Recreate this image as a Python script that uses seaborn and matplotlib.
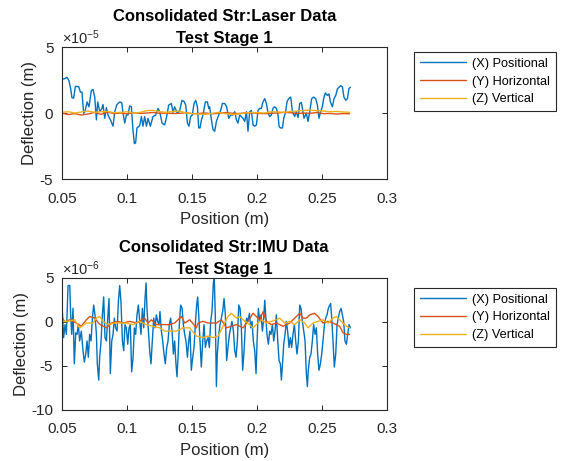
import numpy as np
import matplotlib
matplotlib.use("Agg")
import matplotlib.pyplot as plt
import seaborn as sns
from matplotlib.ticker import FuncFormatter

# ---------------- data ----------------
SERIES_LABELS = ["(X) Positional", "(Y) Horizontal", "(Z) Vertical"]
XTICKS = [0.05, 0.1, 0.15, 0.2, 0.25, 0.3]
XTICK_LABELS = ["0.05", "0.1", "0.15", "0.2", "0.25", "0.3"]
TOP_YTICKS = [-5e-5, 0, 5e-5]
BOT_YTICKS = [-10e-6, -5e-6, 0, 5e-6]

# Laser data, X (positional), values in units of 1e-5 m
LASER_X_POS = [0.0500, 0.0505, 0.0523, 0.0541, 0.0556, 0.0569, 0.0579, 0.0592, 0.0605, 0.0631,
               0.0644, 0.0656, 0.0669, 0.0679, 0.0695, 0.0710, 0.0728, 0.0741, 0.0754, 0.0767,
               0.0777, 0.0792, 0.0808, 0.0818, 0.0831, 0.0844, 0.0856, 0.0875, 0.0895, 0.0908,
               0.0925, 0.0946, 0.0962, 0.0972, 0.0985, 0.0998, 0.1010, 0.1023, 0.1036, 0.1048,
               0.1059, 0.1069, 0.1079, 0.1100, 0.1113, 0.1125, 0.1138, 0.1152, 0.1164, 0.1182,
               0.1202, 0.1223, 0.1241, 0.1254, 0.1272, 0.1292, 0.1305, 0.1323, 0.1344, 0.1356,
               0.1369, 0.1390, 0.1408, 0.1425, 0.1441, 0.1454, 0.1467, 0.1479, 0.1492, 0.1505,
               0.1518, 0.1531, 0.1544, 0.1554, 0.1564, 0.1575, 0.1587, 0.1605, 0.1621, 0.1631,
               0.1638, 0.1652, 0.1664, 0.1677, 0.1690, 0.1708, 0.1723, 0.1736, 0.1754, 0.1769,
               0.1785, 0.1800, 0.1818, 0.1831, 0.1844, 0.1856, 0.1869, 0.1882, 0.1895, 0.1908,
               0.1921, 0.1933, 0.1946, 0.1959, 0.1972, 0.1985, 0.1998, 0.2010, 0.2023, 0.2036,
               0.2048, 0.2062, 0.2075, 0.2087, 0.2100, 0.2113, 0.2125, 0.2138, 0.2152, 0.2164,
               0.2172, 0.2182, 0.2198, 0.2208, 0.2223, 0.2233, 0.2246, 0.2262, 0.2275, 0.2292,
               0.2305, 0.2318, 0.2331, 0.2344, 0.2356, 0.2364, 0.2382, 0.2395, 0.2408, 0.2423,
               0.2438, 0.2454, 0.2467, 0.2479, 0.2492, 0.2505, 0.2515, 0.2528, 0.2544, 0.2556,
               0.2567, 0.2582, 0.2595, 0.2608, 0.2621, 0.2633, 0.2646, 0.2659, 0.2671, 0.2685,
               0.2698, 0.2710, 0.2721]
LASER_X_VAL = [0.10, 2.57, 2.60, 2.70, 2.45, 1.83, 1.16, 1.13, 2.02, 2.00,
               1.58, 1.58, -0.02, 0.10, 0.84, 0.47, 1.70, 1.78, 1.21, -0.52,
               0.84, 0.15, 0.30, 0.64, -0.40, 0.40, -0.15, -0.52, -1.00, 0.10,
               0.64, 0.84, 0.79, -0.02, -0.76, -0.15, -0.15, 0.54, 0.47, -1.26,
               -2.32, -2.25, -1.13, -0.96, -0.27, -1.00, -0.27, -1.00, -0.40, -1.00,
               -0.27, -0.15, 0.35, 0.10, -0.76, -0.90, -0.40, 0.60, 0.72, 0.05,
               0.47, -0.02, 0.20, 0.96, 0.87, 0.60, -0.76, -1.00, -0.27, -0.15,
               0.72, 0.96, 0.47, -1.13, -1.13, -0.52, -0.15, 0.84, 0.84, 0.35,
               0.47, -0.52, -1.26, -1.38, -0.64, -0.15, 0.20, 0.72, 0.72, 0.47,
               -0.40, -0.15, -0.15, 0.10, -0.52, -0.76, -0.15, -0.27, -0.40, -0.64,
               0.10, -1.38, 0.10, 0.20, -0.90, -1.00, -0.90, 0.20, 0.35, 0.35,
               0.84, 1.09, 0.72, 0.00, -0.27, -0.15, 0.35, 0.47, 0.35, -0.15,
               -1.00, -1.13, -1.13, -0.40, 0.10, 0.84, 1.09, 1.21, 0.10, -0.27,
               0.10, -0.35, 0.72, 0.80, 0.10, -0.40, -0.02, -0.64, 0.10, 1.09,
               1.21, 1.09, 0.60, -0.40, 0.10, 0.47, 1.09, 1.53, 1.33, 1.45,
               0.84, 0.47, 1.09, 1.33, 1.83, 1.95, 2.07, 2.00, 1.21, 0.96,
               1.10, 1.86, 1.95]
# Laser data, Y (horizontal) and Z (vertical), units of 1e-5 m, evenly sampled
LASER_YZ_START, LASER_YZ_END = 0.05, 0.2715
LASER_Y_VAL = [0.00, -0.12, -0.05, -0.15, -0.08, 0.05, -0.10, 0.08, -0.05, 0.00,
               -0.06, 0.02, -0.03, 0.00, 0.04, -0.02, 0.00, -0.04, -0.02, 0.02,
               -0.05, -0.03, 0.00, -0.06, -0.02, 0.03, -0.01, -0.04, 0.00, 0.02,
               -0.03, -0.05, -0.02, 0.00, 0.05, 0.02, -0.03, 0.00, -0.02, 0.04,
               -0.05, -0.03, -0.08, -0.04, -0.06]
LASER_Z_VAL = [0.05, 0.10, 0.00, 0.08, 0.15, 0.05, 0.10, 0.12, 0.02, 0.05,
               0.10, 0.00, 0.05, 0.18, 0.20, 0.10, 0.05, 0.12, 0.15, 0.00,
               -0.05, -0.08, -0.10, -0.02, 0.05, -0.05, -0.10, -0.08, 0.00, 0.05,
               0.02, 0.00, 0.10, 0.08, 0.05, 0.12, 0.15, 0.20, 0.22, 0.18,
               0.15, 0.10, 0.12, 0.08, 0.05]

# IMU data, X (positional), values in units of 1e-6 m
IMU_X_POS = [0.0500, 0.0505, 0.0515, 0.0526, 0.0536, 0.0549, 0.0562, 0.0569, 0.0577, 0.0587,
             0.0597, 0.0608, 0.0618, 0.0628, 0.0638, 0.0651, 0.0664, 0.0674, 0.0685, 0.0695,
             0.0705, 0.0715, 0.0726, 0.0736, 0.0746, 0.0756, 0.0767, 0.0774, 0.0785, 0.0792,
             0.0803, 0.0813, 0.0823, 0.0833, 0.0844, 0.0854, 0.0864, 0.0874, 0.0885, 0.0895,
             0.0905, 0.0915, 0.0926, 0.0936, 0.0946, 0.0956, 0.0967, 0.0977, 0.0987, 0.0997,
             0.1008, 0.1018, 0.1028, 0.1038, 0.1049, 0.1059, 0.1069, 0.1079, 0.1090, 0.1100,
             0.1110, 0.1121, 0.1131, 0.1141, 0.1149, 0.1156, 0.1167, 0.1177, 0.1187, 0.1197,
             0.1208, 0.1218, 0.1228, 0.1238, 0.1249, 0.1256, 0.1267, 0.1277, 0.1287, 0.1297,
             0.1308, 0.1318, 0.1328, 0.1338, 0.1349, 0.1359, 0.1369, 0.1379, 0.1387, 0.1395,
             0.1405, 0.1415, 0.1426, 0.1436, 0.1446, 0.1456, 0.1467, 0.1477, 0.1487, 0.1497,
             0.1508, 0.1518, 0.1528, 0.1538, 0.1546, 0.1554, 0.1564, 0.1574, 0.1585, 0.1595,
             0.1605, 0.1615, 0.1626, 0.1636, 0.1646, 0.1656, 0.1667, 0.1674, 0.1682, 0.1690,
             0.1697, 0.1708, 0.1718, 0.1728, 0.1738, 0.1749, 0.1759, 0.1769, 0.1779, 0.1790,
             0.1800, 0.1810, 0.1821, 0.1831, 0.1841, 0.1851, 0.1862, 0.1872, 0.1882, 0.1892,
             0.1903, 0.1913, 0.1923, 0.1933, 0.1944, 0.1954, 0.1964, 0.1974, 0.1985, 0.1995,
             0.2003, 0.2013, 0.2023, 0.2033, 0.2044, 0.2054, 0.2062, 0.2069, 0.2079, 0.2090,
             0.2100, 0.2110, 0.2121, 0.2131, 0.2141, 0.2151, 0.2162, 0.2172, 0.2182, 0.2190,
             0.2197, 0.2208, 0.2218, 0.2228, 0.2238, 0.2249, 0.2259, 0.2269, 0.2279, 0.2290,
             0.2300, 0.2310, 0.2321, 0.2331, 0.2341, 0.2351, 0.2362, 0.2372, 0.2382, 0.2390,
             0.2397, 0.2408, 0.2418, 0.2428, 0.2438, 0.2449, 0.2459, 0.2469, 0.2479, 0.2490,
             0.2500, 0.2510, 0.2521, 0.2531, 0.2541, 0.2551, 0.2562, 0.2569, 0.2577, 0.2587,
             0.2597, 0.2608, 0.2618, 0.2628, 0.2638, 0.2649, 0.2659, 0.2669, 0.2679, 0.2690,
             0.2700, 0.2710, 0.2721]
IMU_X_VAL = [0.04, 1.15, -1.81, -0.33, -1.44, 4.11, 4.11, 0.78, -1.44, 1.52,
             -4.78, -1.26, -1.44, -0.33, -2.19, -1.07, -3.30, -4.59, -3.67, -2.19,
             -4.04, -1.44, -2.19, 0.41, 1.89, 0.78, -1.44, -4.78, -6.63, -4.04,
             -2.19, 0.78, 2.81, -1.81, -2.19, 0.41, 2.63, -5.89, -2.19, -1.44,
             0.41, -0.70, -1.07, 2.26, 4.11, 2.26, -2.19, -3.30, -0.33, -0.70,
             -2.56, -0.70, -0.33, -5.70, -4.04, -0.70, -1.44, 0.78, 1.89, 0.04,
             -1.44, 1.52, -0.70, 2.63, 4.41, 1.52, -1.07, -3.30, -4.78, -2.19,
             0.41, -0.70, 0.78, 0.04, -0.33, 1.15, -1.07, -2.19, -3.67, -4.78,
             -2.93, -2.19, -0.33, 0.41, -1.07, -3.67, -2.19, -4.78, -6.26, -4.04,
             -0.33, 1.89, 1.52, -0.33, -1.44, -2.19, -4.04, -2.19, -1.07, -5.52,
             -4.04, -2.93, -0.33, 1.89, 2.81, 0.78, -2.19, -5.15, -2.19, -0.33,
             -2.93, -2.19, -1.81, -2.93, 0.04, 1.15, 4.48, 4.85, 0.41, -7.37,
             -3.67, -1.44, -0.33, 0.41, 1.15, 2.63, 0.78, -4.41, -2.93, -1.44,
             -0.70, 0.04, -1.07, -3.30, -4.04, -2.19, 1.89, 1.52, -0.70, -5.52,
             -3.30, -0.33, 0.41, 0.04, 0.96, -0.70, 0.04, -2.19, -3.30, -5.89,
             -2.19, 1.52, 0.04, 0.78, -1.07, 0.41, 2.44, 0.78, -1.44, -2.56,
             -1.07, -1.44, -0.33, -2.19, -1.07, 0.78, -2.19, -4.41, -4.78, -6.63,
             -5.15, -2.56, -1.44, 0.04, -1.07, -2.93, -1.81, -2.93, -1.44, -0.33,
             -2.19, -3.67, -2.19, 1.89, 1.52, 0.04, -1.07, -2.19, -5.89, -7.37,
             -5.52, -4.04, -3.67, -2.19, -0.33, -1.44, -0.70, -3.67, -5.52, -4.78,
             -3.67, -2.19, -0.33, 0.41, 0.78, 1.52, 1.89, 2.07, 0.41, -2.19,
             -5.15, -3.67, -0.33, 0.41, 1.15, 1.52, 0.78, 0.04, -2.19, -2.56,
             -1.44, -0.33, -0.70]

# IMU data, Y (horizontal), units of 1e-6 m
IMU_Y_POS = [0.0500, 0.0523, 0.0562, 0.0613, 0.0651, 0.0690, 0.0715, 0.0754, 0.0792, 0.0844,
             0.0882, 0.0933, 0.0972, 0.1023, 0.1074, 0.1138, 0.1164, 0.1190, 0.1228, 0.1292,
             0.1331, 0.1369, 0.1395, 0.1421, 0.1446, 0.1485, 0.1536, 0.1549, 0.1587, 0.1626,
             0.1690, 0.1728, 0.1767, 0.1805, 0.1844, 0.1895, 0.1933, 0.1972, 0.1997, 0.2023,
             0.2049, 0.2074, 0.2113, 0.2151, 0.2203, 0.2254, 0.2305, 0.2331, 0.2356, 0.2382,
             0.2408, 0.2446, 0.2472, 0.2510, 0.2549, 0.2587, 0.2638, 0.2664, 0.2690, 0.2715]
IMU_Y_VAL = [0.59, -0.04, 0.22, -0.15, -0.52, 0.22, 0.59, 0.41, -0.30, -0.70,
             -0.15, 0.04, -0.15, 0.04, -0.15, 0.41, -0.15, 0.22, -0.33, -0.33,
             -0.33, -0.15, 0.22, 0.59, -0.15, 0.22, -0.70, -0.15, 0.04, -0.15,
             -0.15, 0.22, -0.70, -0.52, -0.33, -0.70, 0.04, 0.96, 0.59, 0.22,
             1.15, 0.04, -0.33, -0.15, -0.52, -0.15, 0.59, 0.96, 0.41, 0.41,
             0.78, 0.96, 0.59, -0.15, 0.04, -0.15, -0.52, -1.26, -1.44, -1.44]

# IMU data, Z (vertical), units of 1e-6 m
IMU_Z_POS = [0.0500, 0.0549, 0.0600, 0.0638, 0.0690, 0.0741, 0.0767, 0.0792, 0.0818, 0.0856,
             0.0908, 0.0946, 0.0997, 0.1049, 0.1100, 0.1151, 0.1203, 0.1254, 0.1292, 0.1331,
             0.1382, 0.1433, 0.1485, 0.1536, 0.1587, 0.1626, 0.1664, 0.1703, 0.1741, 0.1779,
             0.1805, 0.1844, 0.1869, 0.1908, 0.1946, 0.1972, 0.2010, 0.2036, 0.2074, 0.2113,
             0.2151, 0.2177, 0.2215, 0.2254, 0.2292, 0.2331, 0.2369, 0.2395, 0.2433, 0.2472,
             0.2510, 0.2549, 0.2587, 0.2613, 0.2638, 0.2664, 0.2690, 0.2715]
IMU_Z_VAL = [0.04, 0.04, 0.22, -0.70, -0.15, -0.15, 0.41, 0.59, 0.04, -0.33,
             -0.15, -0.15, -0.15, -0.33, 0.04, -0.33, -0.52, -0.70, -1.07, -1.07,
             -1.07, -0.70, -0.70, -1.63, -1.80, -1.63, -1.80, -1.63, -0.52, 0.59,
             0.96, 0.41, 0.59, 0.04, -0.33, -0.70, -0.15, 0.22, -0.15, 0.04,
             0.22, 0.41, -0.15, 0.04, -0.33, 0.22, -0.15, -0.70, -0.15, 0.04,
             0.22, -0.15, 0.41, 0.59, 0.22, -0.15, -0.52, -0.70]

LASER_SCALE = 1e-5
IMU_SCALE = 1e-6

# ---------------- style ----------------
COLORS = ["#0072BD", "#D95319", "#EDB120"]
AX_COLOR = "#262626"

sns.set_style("ticks")
plt.rcParams.update({
    "font.family": ["Liberation Sans", "DejaVu Sans"],
    "mathtext.fontset": "custom",
    "mathtext.rm": "Liberation Sans",
    "mathtext.it": "Liberation Sans:italic",
    "mathtext.bf": "Liberation Sans:bold",
    "axes.unicode_minus": False,
    "xtick.direction": "in",
    "ytick.direction": "in",
    "xtick.top": True,
    "ytick.right": True,
    "xtick.major.size": 3.5,
    "ytick.major.size": 3.5,
    "xtick.major.width": 0.7,
    "ytick.major.width": 0.7,
    "axes.edgecolor": AX_COLOR,
    "axes.linewidth": 0.8,
    "xtick.color": AX_COLOR,
    "ytick.color": AX_COLOR,
    "text.color": "black",
    "axes.labelcolor": AX_COLOR,
})

fig = plt.figure(figsize=(5.66, 4.61), dpi=100)
ax_top = fig.add_axes([0.109, 0.6117, 0.5742, 0.2863])
ax_bot = fig.add_axes([0.109, 0.1113, 0.5742, 0.2863])

laser_yz_pos = np.linspace(LASER_YZ_START, LASER_YZ_END, len(LASER_Y_VAL))

top_series = [
    (LASER_X_POS, LASER_X_VAL),
    (laser_yz_pos, LASER_Y_VAL),
    (laser_yz_pos, LASER_Z_VAL),
]
bot_series = [
    (IMU_X_POS, IMU_X_VAL),
    (IMU_Y_POS, IMU_Y_VAL),
    (IMU_Z_POS, IMU_Z_VAL),
]


def draw(ax, series, scale, title, ylim, yticks, power, legend_top):
    for (pos, val), col, lab in zip(series, COLORS, SERIES_LABELS):
        sns.lineplot(x=np.asarray(pos), y=np.asarray(val) * scale, ax=ax,
                     color=col, linewidth=1.0, label=lab, sort=False,
                     estimator=None)
    ax.set_xlim(0.05, 0.3)
    ax.set_ylim(*ylim)
    ax.set_xticks(XTICKS)
    ax.set_xticklabels(XTICK_LABELS)
    ax.set_yticks(yticks)
    ax.yaxis.set_major_formatter(
        FuncFormatter(lambda v, p, s=scale: f"{round(v / s):d}"))
    ax.tick_params(axis="x", labelsize=11, pad=9)
    ax.tick_params(axis="y", labelsize=11, pad=6)
    ax.text(0.0, 1.0, r"$\times10^{%d}$" % power, transform=ax.transAxes,
            ha="left", va="bottom", fontsize=10.5, color=AX_COLOR)
    ax.set_xlabel("Position (m)", fontsize=12, labelpad=5)
    ax.set_ylabel("Deflection (m)", fontsize=12, labelpad=2)
    ax.set_title(title, fontsize=12, fontweight="bold", pad=3, linespacing=1.55)
    for s in ax.spines.values():
        s.set_visible(True)
        s.set_color(AX_COLOR)
    leg = ax.legend(loc="upper left", bbox_to_anchor=(0.7314, legend_top),
                    bbox_transform=fig.transFigure, borderaxespad=0,
                    fontsize=9.2, frameon=True, fancybox=False, framealpha=1,
                    edgecolor=AX_COLOR, handlelength=3.6, handletextpad=0.5,
                    labelspacing=0.45, borderpad=0.45)
    leg.get_frame().set_linewidth(0.8)
    for h in leg.get_lines():
        h.set_linewidth(1.0)


draw(ax_top, top_series, LASER_SCALE,
     "Consolidated Str:Laser Data\nTest Stage 1",
     (-5e-5, 5e-5), TOP_YTICKS, -5, 0.887)
draw(ax_bot, bot_series, IMU_SCALE,
     "Consolidated Str:IMU Data\nTest Stage 1",
     (-10e-6, 5e-6), BOT_YTICKS, -6, 0.3753)

fig.savefig("out.png", dpi=100)
